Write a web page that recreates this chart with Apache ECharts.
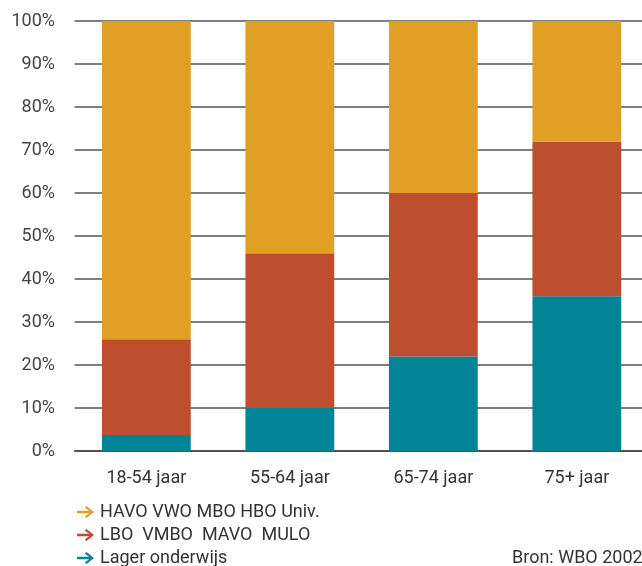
<!DOCTYPE html>
<html><head><meta charset="utf-8">
<script src="https://cdn.jsdelivr.net/npm/echarts@6/dist/echarts.min.js"></script>
<style>html,body{margin:0;padding:0;background:#fff}#c{width:642px;height:566px}</style>
</head><body><div id="c"></div>
<script>
const categories = ['18-54 jaar', '55-64 jaar', '65-74 jaar', '75+ jaar'];
const lager = [3.7, 10, 22, 36];
const lbo = [22.3, 36, 38, 36];
const havo = [74, 54, 40, 28];
const yTicks = [0, 10, 20, 30, 40, 50, 60, 70, 80, 90, 100];
const seriesNames = ['Lager onderwijs', 'LBO  VMBO  MAVO  MULO', 'HAVO VWO MBO HBO Univ.'];
const colors = ['#008496', '#BE4E30', '#E19F26'];
const FONT = 'Roboto';
const arrow = 'path://M0,4.7 L12.3,4.7 L7.8,1.7 L9.5,0 L17,6 L9.5,12 L7.8,10.3 L12.3,7.3 L0,7.3 Z';
const chart = echarts.init(document.getElementById('c'), null, {renderer: 'canvas'});
const dataSets = [lager, lbo, havo];
chart.setOption({
  animation: false,
  textStyle: {fontFamily: FONT},
  grid: {left: 74.6, top: 21, width: 574, height: 430, containLabel: false, outerBoundsMode: 'none'},
  legend: {
    orient: 'vertical', left: 72, top: 498, height: 80, itemGap: 5, itemWidth: 17, itemHeight: 12,
    data: [seriesNames[2], seriesNames[1], seriesNames[0]].map((n) => ({name: n, icon: arrow})),
    textStyle: {fontFamily: FONT, fontSize: 18, color: '#333', padding: [0, 0, 0, 1]},
    selectedMode: false
  },
  xAxis: {
    type: 'category', data: categories,
    axisTick: {show: false},
    axisLine: {lineStyle: {color: '#444', width: 1.5}},
    axisLabel: {fontFamily: FONT, fontSize: 18, color: '#333', margin: 18}
  },
  yAxis: {
    type: 'value', min: 0, max: 100, interval: 10,
    axisLine: {show: false}, axisTick: {show: false},
    axisLabel: {fontFamily: FONT, fontSize: 18, color: '#444', margin: 19.6, formatter: (v) => yTicks.includes(v) ? v + '%' : ''},
    splitLine: {lineStyle: {color: '#555', width: 1.5}}
  },
  series: dataSets.map((d, i) => ({
    name: seriesNames[i], type: 'bar', stack: 'total', data: d,
    barWidth: '61.9%', itemStyle: {color: colors[i]}, z: 3
  })),
  graphic: [{
    type: 'text', left: 512, top: 549,
    style: {text: 'Bron: WBO 2002', font: '18px ' + FONT, fill: '#333'}
  }]
});
</script></body></html>
